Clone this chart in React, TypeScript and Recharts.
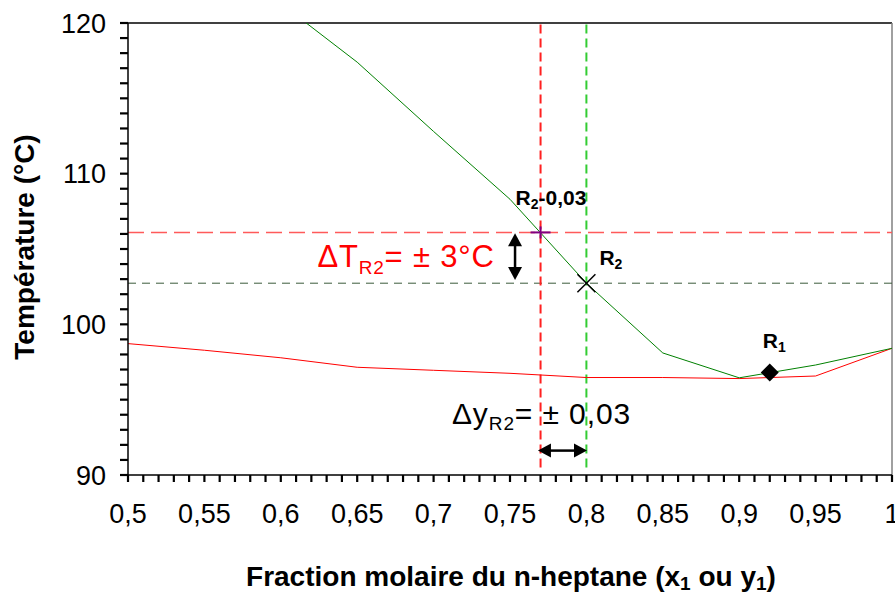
import {
  ComposedChart,
  Line,
  XAxis,
  YAxis,
  Scatter,
  ReferenceLine,
  ReferenceDot,
  Label,
} from 'recharts';

// courbe de rosée (vapeur) et courbe de bulle (liquide)
const DEW_X = [0.6, 0.65, 0.7, 0.75, 0.8, 0.85, 0.9, 0.95, 1];
const DEW_T = [121.3, 117.4, 112.8, 108.3, 102.73, 98.1, 96.45, 97.3, 98.41];
const BUBBLE_X = [0.5, 0.55, 0.6, 0.65, 0.7, 0.75, 0.8, 0.85, 0.9, 0.95, 1];
const BUBBLE_T = [98.72, 98.28, 97.78, 97.15, 96.95, 96.75, 96.47, 96.47, 96.4, 96.57, 98.41];

const X_TICK_LABELS = [0.5, 0.55, 0.6, 0.65, 0.7, 0.75, 0.8, 0.85, 0.9, 0.95, 1];
const Y_TICK_LABELS = [90, 100, 110, 120];

// points remarquables
const R1 = [{ x: 0.92, t: 96.8 }];
const R2 = [{ x: 0.8, t: 102.73 }];
const R2_SHIFT = [{ x: 0.77, t: 106.1 }];

// annotations
const DT_ARROW = { x: 0.7533, from: 102.95, to: 106.05 };
const DY_ARROW = { t: 91.62, from: 0.7683, to: 0.8004 };
const DT_TEXT = { x: 0.624, t: 103.83 };
const DY_TEXT = { x: 0.712, t: 93.37 };

const dewData = DEW_X.map((x, i) => ({ x, t: DEW_T[i] }));
const bubbleData = BUBBLE_X.map((x, i) => ({ x, t: BUBBLE_T[i] }));

// graduations secondaires
const X_TICKS = Array.from({ length: 51 }, (_, i) => Math.round((0.5 + i * 0.01) * 100) / 100);
const Y_TICKS = Array.from({ length: 31 }, (_, i) => 90 + i);

const FONT = '"Liberation Sans", Arial, sans-serif';
const fmt = (v: number) => String(Math.round(v * 100) / 100).replace('.', ',');
const isLabel = (list: number[], v: number) => list.some((l) => Math.abs(l - v) < 1e-6);

function DoubleArrow(p: any) {
  const { x1, y1, x2, y2 } = p;
  const dx = x2 - x1;
  const dy = y2 - y1;
  const len = Math.hypot(dx, dy) || 1;
  const ux = dx / len;
  const uy = dy / len;
  const nx = -uy;
  const ny = ux;
  const L = 13;
  const W = 7;
  const head = (tx: number, ty: number, dir: number) => {
    const bx = tx - dir * ux * L;
    const by = ty - dir * uy * L;
    return `${tx},${ty} ${bx + nx * W},${by + ny * W} ${bx - nx * W},${by - ny * W}`;
  };
  return (
    <g>
      <line
        x1={x1 + ux * L * 0.7}
        y1={y1 + uy * L * 0.7}
        x2={x2 - ux * L * 0.7}
        y2={y2 - uy * L * 0.7}
        stroke="#000"
        strokeWidth={2.5}
      />
      <polygon points={head(x2, y2, 1)} fill="#000" />
      <polygon points={head(x1, y1, -1)} fill="#000" />
    </g>
  );
}

const R1Shape = (p: any) => {
  const { cx, cy } = p;
  return (
    <g>
      <polygon points={`${cx},${cy - 9} ${cx + 9},${cy} ${cx},${cy + 9} ${cx - 9},${cy}`} fill="#000" />
      <text x={cx - 7} y={cy - 25} fontSize={21} fontWeight="bold" fill="#000">
        R<tspan fontSize={14} dy={4}>1</tspan>
      </text>
    </g>
  );
};

const R2Shape = (p: any) => {
  const { cx, cy } = p;
  return (
    <g>
      <line x1={cx - 9} y1={cy - 9} x2={cx + 9} y2={cy + 9} stroke="#000" strokeWidth={1.5} />
      <line x1={cx - 9} y1={cy + 9} x2={cx + 9} y2={cy - 9} stroke="#000" strokeWidth={1.5} />
      <text x={cx + 13} y={cy - 18} fontSize={21} fontWeight="bold" fill="#000">
        R<tspan fontSize={14} dy={4}>2</tspan>
      </text>
    </g>
  );
};

const R2ShiftShape = (p: any) => {
  const { cx, cy } = p;
  return (
    <g>
      <line x1={cx - 10} y1={cy} x2={cx + 10} y2={cy} stroke="#800080" strokeWidth={2} />
      <line x1={cx} y1={cy - 6} x2={cx} y2={cy + 6} stroke="#800080" strokeWidth={2} />
      <text x={cx - 25} y={cy - 27} fontSize={21} fontWeight="bold" fill="#000">
        R<tspan fontSize={14} dy={4}>2</tspan>
        <tspan dy={-4}>-0,03</tspan>
      </text>
    </g>
  );
};

const DtText = (p: any) => (
  <text x={p.cx} y={p.cy} fontSize={31} fill="#ff0000" letterSpacing={0.8}>
    ΔT<tspan fontSize={19} dy={7}>R2</tspan>
    <tspan dy={-7}>= ± 3°C</tspan>
  </text>
);

const DyText = (p: any) => (
  <text x={p.cx} y={p.cy} fontSize={30} fill="#000" letterSpacing={0.9}>
    Δy<tspan fontSize={19} dy={6}>R2</tspan>
    <tspan dy={-6}>= ± 0,03</tspan>
  </text>
);

const XTitle = (p: any) => {
  const vb = p.viewBox || { x: 128, y: 475, width: 764, height: 117 };
  return (
    <text x={vb.x + vb.width / 2 + 1} y={vb.y + 111} textAnchor="middle" fontSize={28} fontWeight="bold" fill="#000">
      Fraction molaire du n-heptane (x<tspan fontSize={19} dy={4}>1</tspan>
      <tspan dy={-4}> ou y</tspan>
      <tspan fontSize={19} dy={4}>1</tspan>
      <tspan dy={-4}>)</tspan>
    </text>
  );
};

const YTitle = (p: any) => {
  const vb = p.viewBox || { x: 0, y: 23, width: 128, height: 452 };
  const cx = vb.x + 34;
  const cy = vb.y + vb.height / 2 - 2;
  return (
    <text
      x={cx}
      y={cy}
      textAnchor="middle"
      fontSize={28}
      fontWeight="bold"
      fill="#000"
      transform={`rotate(-90, ${cx}, ${cy})`}
    >
      Température (°C)
    </text>
  );
};

export default function App() {
  return (
    <div style={{ position: 'absolute', left: 0, top: 0, width: 895, height: 592, background: '#fff', fontFamily: FONT }}>
      <ComposedChart width={895} height={592} margin={{ top: 23, right: 3, bottom: 0, left: 0 }}>
        <XAxis
          type="number"
          dataKey="x"
          domain={[0.5, 1]}
          ticks={X_TICKS}
          interval={0}
          allowDataOverflow
          tickSize={7}
          tickMargin={22}
          tickLine={{ stroke: '#000', strokeWidth: 2.2 }}
          tick={{ fill: '#000', fontSize: 27 }}
          tickFormatter={(v: number) => (isLabel(X_TICK_LABELS, v) ? fmt(v) : '')}
          height={117}
          stroke="#000"
          axisLine={{ stroke: '#000', strokeWidth: 1.5 }}
        >
          <Label content={XTitle} />
        </XAxis>
        <YAxis
          type="number"
          dataKey="t"
          domain={[90, 120]}
          ticks={Y_TICKS}
          interval={0}
          allowDataOverflow
          tickSize={8}
          tickMargin={14}
          tickLine={{ stroke: '#000', strokeWidth: 2.2 }}
          tick={{ fill: '#000', fontSize: 27 }}
          tickFormatter={(v: number) => (isLabel(Y_TICK_LABELS, v) ? String(v) : '')}
          width={128}
          stroke="#000"
          axisLine={{ stroke: '#000', strokeWidth: 1.5 }}
        >
          <Label content={YTitle} />
        </YAxis>

        {/* cadre */}
        <ReferenceLine y={120} stroke="#000" strokeWidth={1.5} />
        <ReferenceLine x={1} stroke="#808080" strokeWidth={1.5} />

        {/* lignes de construction */}
        <ReferenceLine y={R2_SHIFT[0].t} stroke="#ff5a5a" strokeWidth={1.5} strokeDasharray="16 7" />
        <ReferenceLine y={R2[0].t} stroke="#3a5a3a" strokeWidth={1} strokeDasharray="8 6" />
        <ReferenceLine
          segment={[{ x: R2_SHIFT[0].x, y: 90.5 }, { x: R2_SHIFT[0].x, y: 120 }]}
          stroke="#ff2020"
          strokeWidth={2}
          strokeDasharray="9 5"
        />
        <ReferenceLine
          segment={[{ x: R2[0].x, y: 90.5 }, { x: R2[0].x, y: 120 }]}
          stroke="#33cc33"
          strokeWidth={2}
          strokeDasharray="9 5"
        />

        <Line data={bubbleData} dataKey="t" type="linear" stroke="#ff0000" strokeWidth={1} dot={false} isAnimationActive={false} />
        <Line data={dewData} dataKey="t" type="linear" stroke="#008000" strokeWidth={1} dot={false} isAnimationActive={false} />

        <Scatter data={R2_SHIFT} dataKey="t" shape={R2ShiftShape} isAnimationActive={false} />
        <Scatter data={R2} dataKey="t" shape={R2Shape} isAnimationActive={false} />
        <Scatter data={R1} dataKey="t" shape={R1Shape} isAnimationActive={false} />

        <ReferenceLine
          segment={[{ x: DT_ARROW.x, y: DT_ARROW.from }, { x: DT_ARROW.x, y: DT_ARROW.to }]}
          shape={(p: any) => <DoubleArrow {...p} />}
        />
        <ReferenceLine
          segment={[{ x: DY_ARROW.from, y: DY_ARROW.t }, { x: DY_ARROW.to, y: DY_ARROW.t }]}
          shape={(p: any) => <DoubleArrow {...p} />}
        />
        <ReferenceDot x={DT_TEXT.x} y={DT_TEXT.t} r={0} shape={DtText} />
        <ReferenceDot x={DY_TEXT.x} y={DY_TEXT.t} r={0} shape={DyText} />
      </ComposedChart>
    </div>
  );
}
